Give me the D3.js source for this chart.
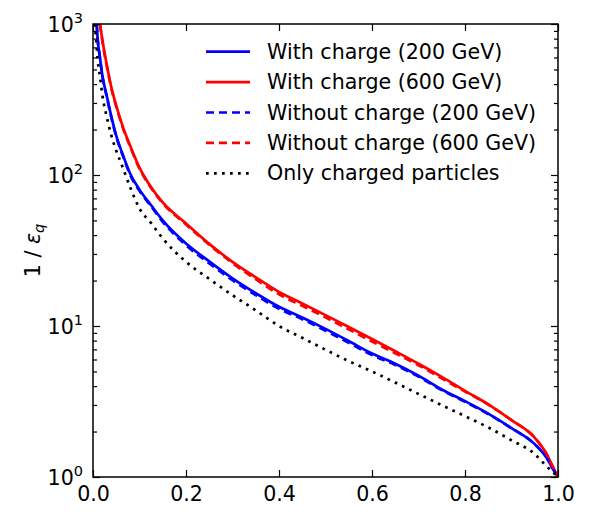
<!DOCTYPE html>
<html>
<head>
<meta charset="utf-8">
<script src="https://cdn.jsdelivr.net/npm/d3@7"></script>
<style>
  body { margin: 0; background: #fff; }
  svg { font-family: "DejaVu Sans", sans-serif; }
</style>
</head>
<body>
<svg width="590" height="520"></svg>
<script>
// shared x grid (fraction), null = curve above the top of the frame
const xGrid = [0.004, 0.008, 0.01, 0.015, 0.02, 0.03, 0.04, 0.05, 0.065, 0.08, 0.1, 0.125, 0.15, 0.2, 0.25, 0.3,
               0.35, 0.4, 0.45, 0.5, 0.55, 0.6, 0.65, 0.7, 0.75, 0.8, 0.85, 0.9, 0.95, 0.975, 0.99, 1.0];

const withCharge200 = [null, 1000, 800, 600, 460, 330, 240, 182, 134, 102, 80, 63, 50.1, 35.2, 26.8, 20.7,
                       16.5, 13.4, 11.4, 9.57, 7.95, 6.57, 5.63, 4.69, 3.80, 3.18, 2.63, 2.11, 1.65, 1.35, 1.12, 1.0];
const withCharge600 = [null, null, null, 1000, 790, 530, 375, 288, 205, 156, 112, 83, 65.8, 47.8, 35, 26.6,
                       21.0, 16.8, 14.1, 11.8, 9.85, 8.2, 6.8, 5.62, 4.6, 3.72, 3.03, 2.38, 1.82, 1.43, 1.15, 1.0];
const noCharge200   = [null, 1000, 795, 595, 455, 325, 236, 179, 132, 100, 78.5, 62, 49, 34.3, 26.0, 20.1,
                       16.0, 13.0, 11.1, 9.3, 7.75, 6.42, 5.52, 4.62, 3.76, 3.15, 2.61, 2.10, 1.65, 1.35, 1.12, 1.0];
const noCharge600   = [null, null, null, 1000, 775, 520, 368, 284, 202, 154, 110, 82, 65, 47, 34.5, 26.1,
                       20.4, 16.2, 13.6, 11.4, 9.5, 7.9, 6.6, 5.5, 4.5, 3.68, 3.02, 2.38, 1.82, 1.43, 1.15, 1.0];
const onlyCharged   = [1000, 700, 580, 450, 340, 240, 180, 145, 110, 83, 60, 48, 38, 26.6, 20.5, 16.0,
                       12.7, 10.0, 8.35, 6.97, 5.85, 5.0, 4.22, 3.55, 2.99, 2.53, 2.13, 1.75, 1.42, 1.18, 1.07, 1.0];

const seriesNames = ["With charge (200 GeV)", "With charge (600 GeV)", "Without charge (200 GeV)",
                     "Without charge (600 GeV)", "Only charged particles"];
const xTicks = [0, 0.2, 0.4, 0.6, 0.8, 1.0];
const yDecades = [1, 10, 100, 1000];

const margin = {top: 24, right: 32, bottom: 43, left: 93};
const width = 590 - margin.left - margin.right;
const height = 520 - margin.top - margin.bottom;
const fs = 20.6;

const svg = d3.select("svg");
const g = svg.append("g").attr("transform", `translate(${margin.left},${margin.top})`);

const x = d3.scaleLinear().domain([0, 1]).range([0, width]);
const y = d3.scaleLog().domain([1, 1000]).range([height, 0]);

const series = [
  {name: seriesNames[0], values: withCharge200, color: "#0000ff", dash: null},
  {name: seriesNames[1], values: withCharge600, color: "#ff0000", dash: null},
  {name: seriesNames[2], values: noCharge200, color: "#0000ff", dash: "8,5"},
  {name: seriesNames[3], values: noCharge600, color: "#ff0000", dash: "8,5"},
  {name: seriesNames[4], values: onlyCharged, color: "#000000", dash: "2.7,5.3"}
];

g.append("clipPath").attr("id", "clip")
  .append("rect").attr("width", width).attr("height", height);

const line = d3.line()
  .defined(d => d[1] != null)
  .x(d => x(d[0]))
  .y(d => y(d[1]))
  .curve(d3.curveMonotoneX);

// drawn in legend order, later ones on top
g.append("g").attr("clip-path", "url(#clip)")
  .selectAll("path")
  .data(series)
  .enter()
  .append("path")
  .attr("d", s => line(xGrid.map((xv, i) => [xv, s.values[i]])))
  .attr("fill", "none")
  .attr("stroke", s => s.color)
  .attr("stroke-width", 2.7)
  .attr("stroke-dasharray", s => s.dash);

// axes, ticks pointing inward
const minorY = y.ticks().filter(v => !yDecades.includes(v));
const fmtPow = v => Math.round(Math.log10(v));

const xAxisBottom = g.append("g").attr("transform", `translate(0,${height})`)
  .call(d3.axisBottom(x).tickValues(xTicks).tickSize(-7).tickPadding(9).tickFormat(d3.format(".1f")));
g.append("g")
  .call(d3.axisTop(x).tickValues(xTicks).tickSize(-7).tickFormat(""));
g.append("g")
  .call(d3.axisLeft(y).tickValues(yDecades).tickSize(-7).tickFormat(""));
g.append("g").attr("transform", `translate(${width},0)`)
  .call(d3.axisRight(y).tickValues(yDecades).tickSize(-7).tickFormat(""));

g.append("g").call(d3.axisLeft(y).tickValues(minorY).tickSize(-4).tickFormat(""));
g.append("g").attr("transform", `translate(${width},0)`)
  .call(d3.axisRight(y).tickValues(minorY).tickSize(-4).tickFormat(""));

g.selectAll(".domain").remove();
g.selectAll(".tick line").attr("stroke", "#000").attr("stroke-width", 1.2);

xAxisBottom.selectAll("text").attr("font-size", fs).attr("fill", "#000").attr("font-family", "DejaVu Sans");

// power-of-ten labels
const yLab = g.append("g").selectAll("text")
  .data(yDecades)
  .enter()
  .append("text")
  .attr("x", -10)
  .attr("y", d => y(d) + 7.5)
  .attr("text-anchor", "end")
  .attr("font-size", fs)
  .attr("fill", "#000");
yLab.append("tspan").text("10");
yLab.append("tspan").attr("dy", -9).attr("font-size", 14.5).text(d => fmtPow(d));

// frame
g.append("rect").attr("width", width).attr("height", height)
  .attr("fill", "none").attr("stroke", "#000").attr("stroke-width", 1.5);

// y label
const yTitle = svg.append("text")
  .attr("transform", `translate(40,${margin.top + height / 2}) rotate(-90)`)
  .attr("text-anchor", "middle")
  .attr("font-size", fs)
  .attr("fill", "#000");
yTitle.append("tspan").text("1 / ");
yTitle.append("tspan").attr("font-style", "italic").text("ε");
yTitle.append("tspan").attr("font-style", "italic").attr("font-size", 14.5).attr("dy", 4).text("q");

// legend
const legend = g.append("g").attr("transform", `translate(113,27.7)`);
const item = legend.selectAll("g")
  .data(series)
  .enter()
  .append("g")
  .attr("transform", (d, i) => `translate(0,${i * 30.4})`);
item.append("line")
  .attr("x1", 0).attr("x2", 44)
  .attr("stroke", d => d.color)
  .attr("stroke-width", 2.7)
  .attr("stroke-dasharray", d => d.dash);
item.append("text")
  .attr("x", 61)
  .attr("y", 7)
  .attr("font-size", fs)
  .attr("fill", "#000")
  .text(d => d.name);
</script>
</body>
</html>
